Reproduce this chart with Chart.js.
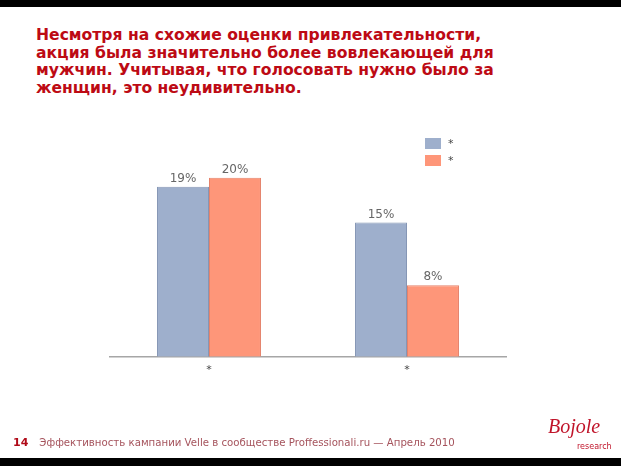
<!DOCTYPE html>
<html>
<head>
<meta charset="utf-8">
<script src="https://cdn.jsdelivr.net/npm/chart.js@4"></script>
<style>
  html, body { margin: 0; padding: 0; background: #fff; }
  #page { position: relative; width: 621px; height: 466px; overflow: hidden; font-family: "DejaVu Sans", Verdana, sans-serif; }
  .band { position: absolute; left: 0; width: 621px; background: #000; }
  #title { position: absolute; left: 36px; top: 27px; margin: 0; font-size: 15.6px; line-height: 17.7px; font-weight: bold; color: #bd0a14; }
  #chartBox { position: absolute; left: 0; top: 0; width: 621px; height: 466px; }
  #legend { position: absolute; left: 425px; top: 135px; font-size: 11px; color: #444; }
  .lg { height: 17px; display: flex; align-items: center; }
  .lg span.sw { display: inline-block; width: 16px; height: 11px; margin-right: 7px; }
  #footer { position: absolute; left: 13px; top: 436px; font-size: 10.2px; color: #a5535c; white-space: nowrap; }
  #footer b { color: #b00a18; margin-right: 11px; font-size: 11px; }
  #logo { position: absolute; left: 548px; top: 415px; width: 70px; height: 40px; color: #c0142a; }
  #logo .b { font-family: "Liberation Serif", serif; font-style: italic; font-size: 20px; line-height: 22px; }
  #logo .r { position: absolute; left: 29px; top: 27px; font-size: 8px; color: #c0142a; }
</style>
</head>
<body>
<div id="page">
  <div class="band" style="top:0;height:7px"></div>
  <div class="band" style="top:458px;height:8px"></div>
  <p id="title">Несмотря на схожие оценки привлекательности,<br>акция была значительно более вовлекающей для<br>мужчин. Учитывая, что голосовать нужно было за<br>женщин, это неудивительно.</p>
  <div id="chartBox"><canvas id="chart"></canvas></div>
  <div id="legend"></div>
  <div id="footer"><b>14</b>Эффективность кампании Velle в сообществе Proffessionali.ru — Апрель 2010</div>
  <div id="logo"><div class="b">Bojole</div><div class="r">research</div></div>
</div>
<script>
// categories and series
const categories = ['*', '*'];
const seriesNames = ['*', '*'];
const seriesA = [19, 15];
const seriesB = [20, 8];
const colors = ['#9eafcc', '#fe9679'];
const borders = ['#8596b5', '#e5826a'];

const valueLabels = {
    id: 'valueLabels',
    afterDatasetsDraw(chart) {
        const ctx = chart.ctx;
        ctx.save();
        ctx.font = '12px "DejaVu Sans", sans-serif';
        ctx.fillStyle = '#666';
        ctx.textAlign = 'center';
        ctx.textBaseline = 'bottom';
        chart.data.datasets.forEach((ds, i) => {
            chart.getDatasetMeta(i).data.forEach((bar, j) => {
                ctx.fillText(ds.data[j] + '%', bar.x, bar.y - 2);
            });
        });
        ctx.restore();
    }
};

const ctx = document.getElementById('chart').getContext('2d');
const chart = new Chart(ctx, {
    type: 'bar',
    data: {
        labels: categories,
        datasets: [
            { label: seriesNames[0], data: seriesA, backgroundColor: colors[0], borderColor: borders[0], borderWidth: 1 },
            { label: seriesNames[1], data: seriesB, backgroundColor: colors[1], borderColor: borders[1], borderWidth: 1 }
        ]
    },
    options: {
        responsive: true,
        maintainAspectRatio: false,
        animation: false,
        layout: { padding: { left: 110, right: 115, top: 133, bottom: 90 } },
        plugins: { legend: { display: false }, tooltip: { enabled: false } },
        datasets: { bar: { barPercentage: 1, categoryPercentage: 0.525 } },
        scales: {
            y: { display: false, min: 0, max: 25 },
            x: {
                grid: { display: false },
                border: { display: true, color: '#a6a6a6', width: 1.5 },
                ticks: { color: '#444', font: { size: 11, family: 'DejaVu Sans' }, padding: -1 }
            }
        }
    },
    plugins: [valueLabels]
});

// legend built from the datasets
const legendEl = document.getElementById('legend');
chart.data.datasets.forEach(ds => {
    const row = document.createElement('div');
    row.className = 'lg';
    row.innerHTML = '<span class="sw" style="background:' + ds.backgroundColor + '"></span>' + ds.label;
    legendEl.appendChild(row);
});
</script>
</body>
</html>
